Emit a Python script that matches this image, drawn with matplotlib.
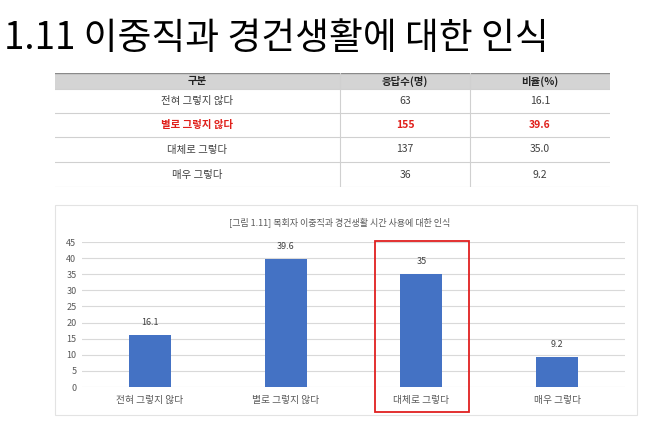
import matplotlib.pyplot as plt
from matplotlib.patches import Rectangle

plt.rcParams['font.family'] = ['Noto Sans CJK KR', 'DejaVu Sans']

# 데이터
categories = ['전혀 그렇지 않다', '별로 그렇지 않다', '대체로 그렇다', '매우 그렇다']
counts = [63, 155, 137, 36]
ratios = [16.1, 39.6, 35.0, 9.2]
bar_labels = ['16.1', '39.6', '35', '9.2']
headers = ['구분', '응답수(명)', '비율(%)']
highlight_row = 1

W, H = 654, 423
fig = plt.figure(figsize=(W / 100, H / 100), dpi=100)

def fx(px):
    return px / W

def fy(py):
    return 1 - py / H

# * 제목
fig.text(fx(4), fy(38), '1.11 이중직과 경건생활에 대한 인식', fontsize=26.5,
         fontweight='medium', va='center', ha='left', color='black')

# * 표
tab = fig.add_axes([fx(55), fy(187), fx(610) - fx(55), fy(73) - fy(187)])
tab.set_xlim(55, 610)
tab.set_ylim(187, 73)
tab.axis('off')
col_edges = [55, 340, 470, 610]
row_edges = [73, 89, 113, 137, 162, 187]
tab.add_patch(Rectangle((55, 73), 555, 16, facecolor='#d4d4d4', edgecolor='none'))
tab.plot([55, 610], [73.5, 73.5], color='#8a8a8a', lw=1)
for y in row_edges[1:]:
    tab.plot([55, 610], [y, y], color='#d0d0d0', lw=0.8)
for x in col_edges[1:-1]:
    tab.plot([x, x], [73, 187], color='#d0d0d0', lw=0.8)

centers = [(col_edges[i] + col_edges[i + 1]) / 2 for i in range(3)]
for i, h in enumerate(headers):
    tab.text(centers[i], 81, h, ha='center', va='center', fontsize=7.5,
             fontweight='bold', color='#222222')
for r in range(len(categories)):
    yc = (row_edges[r + 1] + row_edges[r + 2]) / 2
    red = r == highlight_row
    kw = dict(ha='center', va='center', fontsize=7.5,
              color='#e0201b' if red else '#404040',
              fontweight='bold' if red else 'normal')
    tab.text(centers[0], yc, categories[r], **kw)
    tab.text(centers[1], yc, str(counts[r]), **kw)
    tab.text(centers[2], yc, f'{ratios[r]:.1f}', **kw)

# * 차트 테두리
fig.patches.append(Rectangle((fx(55), fy(415)), fx(637) - fx(55), fy(205) - fy(415),
                             transform=fig.transFigure, facecolor='white',
                             edgecolor='#e3e3e3', lw=0.8, zorder=-1))

fig.text(fx(340), fy(222), '[그림 1.11] 목회자 이중직과 경건생활 시간 사용에 대한 인식',
         ha='center', va='center', fontsize=6.5, color='#595959')

ax = fig.add_axes([fx(82), fy(387), fx(625) - fx(82), fy(242) - fy(387)])
ax.patch.set_alpha(0)
x = range(len(categories))
bars = ax.bar(x, ratios, width=0.31, color='#4472c4', zorder=3)
ax.set_xlim(-0.5, 3.5)
ax.set_ylim(0, 45)
ax.set_yticks(range(0, 50, 5))
ax.grid(axis='y', color='#d9d9d9', lw=0.8, zorder=0)
for s in ax.spines.values():
    s.set_visible(False)
ax.tick_params(axis='both', length=0, labelsize=6.5, colors='#595959')
ax.tick_params(axis='y', pad=4)
ax.tick_params(axis='x', pad=6)
ax.set_xticks(list(x))
ax.set_xticklabels(categories, fontsize=7)
for b, lab in zip(bars, bar_labels):
    ax.annotate(lab, (b.get_x() + b.get_width() / 2, b.get_height()),
                xytext=(0, 6), textcoords='offset points', ha='center',
                va='bottom', fontsize=6.5, color='#404040')

# * 강조 박스
fig.patches.append(Rectangle((fx(375), fy(412)), fx(469) - fx(375), fy(241) - fy(412),
                             transform=fig.transFigure, facecolor='none',
                             edgecolor='#e02020', lw=1.3, zorder=5))

fig.savefig('out.png', dpi=100)
